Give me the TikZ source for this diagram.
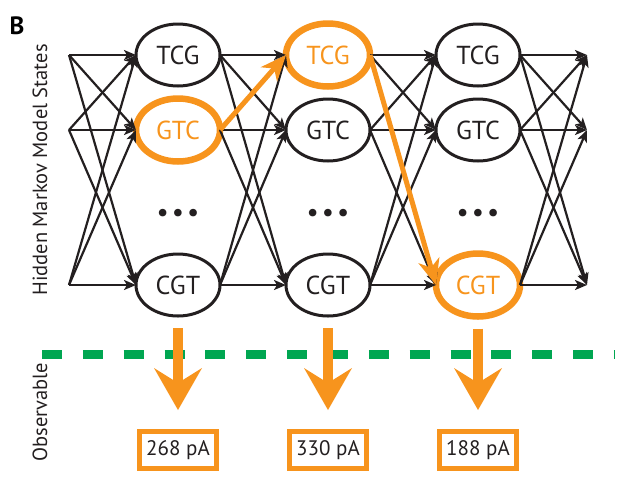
\documentclass[tikz,border=0pt]{standalone}
\usepackage{fontspec}
\setmainfont{PT Sans}
\usetikzlibrary{arrows.meta,shapes.geometric,calc}
\definecolor{hmorange}{HTML}{F7941D}
\definecolor{hmgreen}{HTML}{00A651}
\definecolor{hmblack}{HTML}{231F20}
\begin{document}
\begin{tikzpicture}[x=1pt,y=-1pt,
  state/.style={ellipse,draw=hmblack,line width=3pt,minimum width=84pt,minimum height=62pt,
    inner sep=0pt,outer sep=0pt,font=\fontsize{26}{26}\selectfont,text=hmblack},
  hot/.style={state,draw=hmorange,line width=6.5pt,text=hmorange,minimum width=84pt,minimum height=63pt},
  trans/.style={draw=hmblack,line width=2.2pt,-{Stealth[length=12pt,width=10pt,inset=3pt]}},
  viterbi/.style={draw=hmorange,line width=5pt,-{Stealth[length=26pt,width=22pt,inset=8pt,line width=0pt]}},
  emit/.style={draw=hmorange,line width=10pt,-{Stealth[length=42pt,width=48pt,inset=15pt,line width=0pt]}},
  obs/.style={draw=hmorange,line width=5pt,minimum width=77pt,minimum height=37pt,inner sep=0pt,
    outer sep=0pt,font=\fontsize{21}{21}\selectfont,text=hmblack},
  ellip/.style={font=\fontsize{27}{27}\selectfont,text=hmblack,inner sep=0pt},
  side/.style={rotate=90,font=\fontsize{20.5}{20.5}\selectfont,text=hmblack,inner sep=0pt}
]
\useasboundingbox (0,0) rectangle (631,491);
% labels
\node[font=\bfseries\fontsize{25}{25}\selectfont,text=black,inner sep=0pt] (lb) at (17,26) {B};
\node[side] (lh) at (40,170) {Hidden Markov Model States};
\node[side] (lo) at (40,412) {Observable};
% states
\node[state] (t1) at (178,55) {TCG};
\node[hot]   (g1) at (178,130) {GTC};
\node[state] (c1) at (178,285) {CGT};
\node[hot]   (t2) at (328,55) {TCG};
\node[state] (g2) at (328,130) {GTC};
\node[state] (c2) at (328,285) {CGT};
\node[state] (t3) at (478,55) {TCG};
\node[state] (g3) at (478,130) {GTC};
\node[hot]   (c3) at (478,285) {CGT};
\node[ellip] (d1) at (178,215) {•\hspace{3pt}•\hspace{3pt}•};
\node[ellip] (d2) at (328,215) {•\hspace{3pt}•\hspace{3pt}•};
\node[ellip] (d3) at (478,215) {•\hspace{3pt}•\hspace{3pt}•};
% free ends
\coordinate (s1) at (69,55);
\coordinate (s2) at (69,130);
\coordinate (s3) at (69,285);
\coordinate (e1) at (587,55);
\coordinate (e2) at (587,130);
\coordinate (e3) at (587,285);
% transitions
\foreach \a in {s1,s2,s3}
  \foreach \b in {t1,g1,c1}
    \draw[trans] (\a) -- (\b.west);
\foreach \a in {t1,g1,c1}
  \foreach \b in {t2,g2,c2}
    \draw[trans] (\a.east) -- (\b.west);
\foreach \a in {t2,g2,c2}
  \foreach \b in {t3,g3,c3}
    \draw[trans] (\a.east) -- (\b.west);
\foreach \a in {t3,g3,c3}
  \foreach \b in {e1,e2,e3}
    \draw[trans] (\a.east) -- (\b);
% most likely path
\draw[viterbi] (g1.east) -- (t2.west);
\draw[viterbi] (t2.east) -- (c3.west);
% separator
\coordinate (gl) at (42,354);
\coordinate (gr) at (615,354);
\draw[hmgreen,line width=9pt,dash pattern=on 20pt off 20.85pt] (gl) -- (gr);
% observations
\node[obs] (o1) at (178,450) {268 pA};
\node[obs] (o2) at (328,450) {330 pA};
\node[obs] (o3) at (478,450) {188 pA};
\draw[emit] ([yshift=-12pt]c1.south) -- ([yshift=21.5pt]o1.north);
\draw[emit] ([yshift=-12pt]c2.south) -- ([yshift=21.5pt]o2.north);
\draw[emit] ([yshift=-12pt]c3.south) -- ([yshift=21.5pt]o3.north);
\end{tikzpicture}
\end{document}
